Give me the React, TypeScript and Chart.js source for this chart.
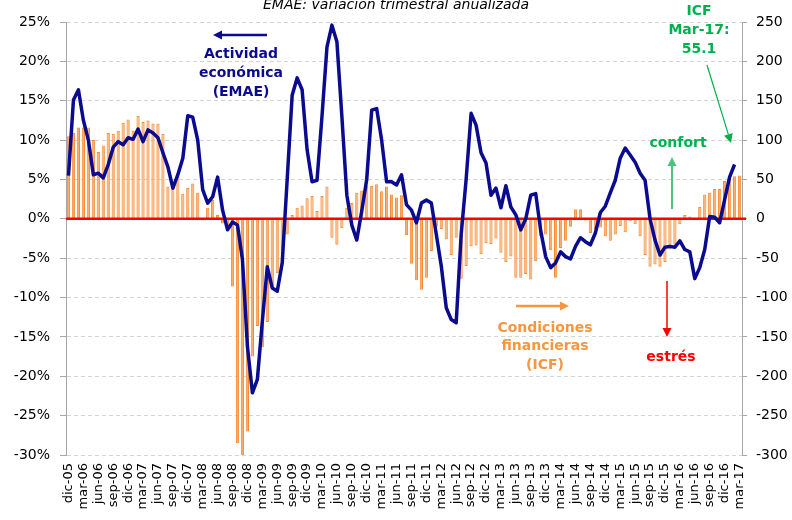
import React, { useEffect, useRef } from 'react';
import { Chart, registerables } from 'chart.js';

Chart.register(...registerables);

const MONTHS = ['ene', 'feb', 'mar', 'abr', 'may', 'jun', 'jul', 'ago', 'sep', 'oct', 'nov', 'dic'];
const FIRST_YEAR = 2005;
const FIRST_MONTH = 11; // dic
const N_MONTHS = 136; // dic-05 .. mar-17

const LABELS: string[] = [];
for (let k = 0; k < N_MONTHS; k++) {
  const m = (FIRST_MONTH + k) % 12;
  const y = FIRST_YEAR + Math.floor((FIRST_MONTH + k) / 12);
  LABELS.push(MONTHS[m] + '-' + String(y % 100).padStart(2, '0'));
}

// EMAE: variación trimestral anualizada (%), left axis
const EMAE: (number | null)[] = [
  5.5, 15.1, 16.4, 12.5, 10.0, 5.6, 5.8, 5.2, 6.9, 9.1,
  9.8, 9.4, 10.3, 10.1, 11.4, 9.8, 11.3, 10.9, 10.3, 8.4,
  6.6, 3.9, 5.6, 7.7, 13.1, 12.9, 10.0, 3.7, 2.0, 2.8,
  5.3, 1.1, -1.4, -0.4, -0.8, -5.2, -16.2, -22.1, -20.4, -13.0,
  -6.1, -8.8, -9.2, -5.6, 5.0, 15.7, 17.9, 16.4, 8.8, 4.7,
  4.9, 13.0, 21.8, 24.6, 22.5, 13.0, 3.0, -0.8, -2.7, 1.0,
  5.0, 13.8, 14.0, 10.0, 4.7, 4.7, 4.3, 5.6, 1.8, 1.1,
  -0.5, 2.0, 2.4, 2.0, -2.0, -6.0, -11.3, -12.8, -13.2, -2.0,
  5.0, 13.4, 11.9, 8.4, 7.1, 3.0, 3.9, 1.4, 4.2, 1.5,
  0.5, -1.4, 0.0, 3.0, 3.2, -1.5, -4.8, -6.2, -5.6, -4.2,
  -4.8, -5.1, -3.5, -2.4, -2.9, -3.3, -1.8, 0.8, 1.6, 3.3,
  4.9, 7.7, 9.0, 8.1, 7.2, 5.8, 4.9, 0.0, -2.7, -4.6,
  -3.6, -3.5, -3.6, -2.8, -3.9, -4.2, -7.6, -6.2, -3.9, 0.3,
  0.2, -0.5, 2.4, 5.3, 6.9, null,
];

// ICF: Índice de Condiciones Financieras, right axis
const ICF: number[] = [
  105, 109, 116, 116, 116, 100, 85, 93, 109, 108,
  112, 122, 126, 112, 131, 123, 125, 121, 121, 108,
  41, 41, 55, 32, 39, 45, 33, -2, 14, 24,
  5, -6, -13, -86, -285, -302, -270, -175, -136, -163,
  -131, -88, -69, -40, -20, 5, 14, 17, 26, 29,
  10, 29, 41, -24, -33, -12, 14, 20, 33, 36,
  42, 42, 44, 35, 41, 31, 27, 30, -21, -57,
  -78, -90, -75, -41, -10, -13, -26, -46, -24, -76,
  -60, -35, -34, -45, -31, -32, -25, -43, -55, -48,
  -75, -75, -70, -77, -54, -22, -20, -40, -75, -37,
  -28, -10, 12, 12, -2, -18, -13, -11, -22, -28,
  -20, -9, -17, -3, -7, -22, -46, -61, -58, -61,
  -55, -39, -33, -7, 5, 3, -1, 15, 31, 33,
  38, 38, 48, 53, 54, 55.1,
];

const LEFT_TICKS = { min: -30, max: 25, step: 5 };
const RIGHT_TICKS = { min: -300, max: 250, step: 50 };

const TITLE = 'EMAE: variación trimestral anualizada';
const EMAE_NOTE = ['Actividad', 'económica', '(EMAE)'];
const ICF_NOTE = ['Condiciones', 'financieras', '(ICF)'];
const LAST_NOTE = ['ICF', 'Mar-17:', '55.1'];

const NAVY = '#0B0B8F';
const ORANGE = '#F7963F';
const GREEN = '#00B050';
const FONT = '"DejaVu Sans", Verdana, sans-serif';

function arrow(ctx: CanvasRenderingContext2D, x1: number, y1: number, x2: number, y2: number, color: string, width: number) {
  const ang = Math.atan2(y2 - y1, x2 - x1);
  const hl = 9;
  const hw = 4.5;
  const bx = x2 - hl * Math.cos(ang);
  const by = y2 - hl * Math.sin(ang);
  ctx.save();
  ctx.strokeStyle = color;
  ctx.fillStyle = color;
  ctx.lineWidth = width;
  ctx.beginPath();
  ctx.moveTo(x1, y1);
  ctx.lineTo(bx, by);
  ctx.stroke();
  ctx.beginPath();
  ctx.moveTo(x2, y2);
  ctx.lineTo(bx + hw * Math.sin(ang), by - hw * Math.cos(ang));
  ctx.lineTo(bx - hw * Math.sin(ang), by + hw * Math.cos(ang));
  ctx.closePath();
  ctx.fill();
  ctx.restore();
}

function lines(ctx: CanvasRenderingContext2D, texts: string[], x: number, ys: number[], color: string) {
  ctx.save();
  ctx.font = 'bold 14px ' + FONT;
  ctx.fillStyle = color;
  ctx.textAlign = 'center';
  ctx.textBaseline = 'alphabetic';
  texts.forEach((t, i) => ctx.fillText(t, x, ys[i]));
  ctx.restore();
}

const zeroLinePlugin = {
  id: 'zeroLine',
  beforeDatasetDraw(chart: any, args: any) {
    if (args.meta.type !== 'line') return;
    const { ctx, chartArea } = chart;
    const y = chart.scales.y.getPixelForValue(0);
    ctx.save();
    ctx.strokeStyle = '#FF0000';
    ctx.lineWidth = 2.5;
    ctx.beginPath();
    ctx.moveTo(chartArea.left, y);
    ctx.lineTo(chartArea.right + 4, y);
    ctx.stroke();
    ctx.restore();
  },
};

const notesPlugin = {
  id: 'notes',
  afterDraw(chart: any) {
    const ctx: CanvasRenderingContext2D = chart.ctx;
    ctx.save();
    ctx.font = 'italic 14px ' + FONT;
    ctx.fillStyle = '#000';
    ctx.textAlign = 'center';
    ctx.textBaseline = 'alphabetic';
    ctx.fillText(TITLE, 396, 9);
    ctx.restore();

    arrow(ctx, 267, 35, 213, 35, NAVY, 2.5);
    lines(ctx, EMAE_NOTE, 241, [58, 77, 96], NAVY);

    arrow(ctx, 516, 306, 569, 306, ORANGE, 2.5);
    lines(ctx, ICF_NOTE, 545, [332, 350, 369], ORANGE);

    lines(ctx, LAST_NOTE, 699, [15, 34, 53], GREEN);
    arrow(ctx, 707, 65, 731, 143, GREEN, 1.2);

    lines(ctx, ['confort'], 678, [147], GREEN);
    arrow(ctx, 672, 209, 672, 157, '#4CC47E', 2);

    lines(ctx, ['estrés'], 671, [361], '#FF0000');
    arrow(ctx, 667, 281, 667, 337, '#FF0000', 1.5);
  },
};

export default function App() {
  const ref = useRef<HTMLCanvasElement | null>(null);

  useEffect(() => {
    document.body.style.margin = '0';
    if (!ref.current) return;
    const chart = new Chart(ref.current, {
      data: {
        labels: LABELS,
        datasets: [
          {
            type: 'line',
            label: 'EMAE',
            data: EMAE,
            yAxisID: 'y',
            borderColor: NAVY,
            borderWidth: 3.5,
            pointRadius: 0,
            tension: 0,
            order: 0,
            borderJoinStyle: 'round',
          },
          {
            type: 'bar',
            label: 'ICF',
            data: ICF,
            yAxisID: 'y1',
            backgroundColor: '#F9AD6C',
            borderColor: '#F58A35',
            borderWidth: 1,
            barPercentage: 0.64,
            categoryPercentage: 1.0,
            order: 1,
          },
        ],
      } as any,
      options: {
        animation: false,
        responsive: false,
        devicePixelRatio: 1,
        layout: { padding: { top: 22, left: 0, right: 0, bottom: 0 } },
        plugins: { legend: { display: false }, tooltip: { enabled: false } },
        scales: {
          x: {
            type: 'category',
            offset: true,
            grid: { display: false, drawTicks: false },
            border: { display: false },
            ticks: {
              autoSkip: false,
              maxRotation: 90,
              minRotation: 90,
              padding: 8,
              color: '#000',
              font: { family: FONT, size: 13 },
              callback: (_v: any, i: number) => (i % 3 === 0 ? LABELS[i] : ''),
            },
            afterFit: (s: any) => { s.height = 65; },
          },
          y: {
            position: 'left',
            min: LEFT_TICKS.min,
            max: LEFT_TICKS.max,
            ticks: {
              stepSize: LEFT_TICKS.step,
              padding: 10,
              color: '#000',
              font: { family: FONT, size: 14 },
              callback: (v: any) => v + '%',
            },
            grid: {
              color: (c: any) => (c.tick && c.tick.value === 0 ? 'rgba(0,0,0,0)' : '#D4D4D4'),
              lineWidth: 1,
              tickLength: 6,
              tickColor: '#A6A6A6',
            },
            border: { display: true, color: '#A6A6A6', width: 1, dash: [4, 3] },
            afterFit: (s: any) => { s.width = 66; },
          },
          y1: {
            position: 'right',
            min: RIGHT_TICKS.min,
            max: RIGHT_TICKS.max,
            ticks: {
              stepSize: RIGHT_TICKS.step,
              padding: 9,
              color: '#000',
              font: { family: FONT, size: 14 },
            },
            grid: { drawOnChartArea: false, tickLength: 5, tickColor: '#A6A6A6' },
            border: { display: true, color: '#A6A6A6', width: 1 },
            afterFit: (s: any) => { s.width = 50; },
          },
        },
      } as any,
      plugins: [zeroLinePlugin, notesPlugin],
    });
    return () => chart.destroy();
  }, []);

  return (
    <div style={{ position: 'absolute', left: 0, top: 0, width: 792, height: 520 }}>
      <canvas ref={ref} width={792} height={520} />
    </div>
  );
}
